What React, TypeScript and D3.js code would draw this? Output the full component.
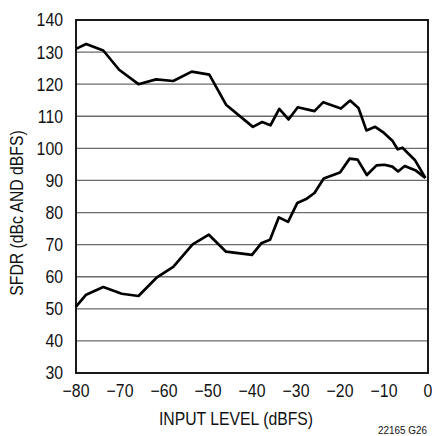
import * as d3 from "d3";

// input level (dBFS) for each measured point
const upperX = [-80, -77.7, -73.8, -70.2, -65.8, -61.8, -57.9, -53.7, -49.7, -45.9, -39.8, -37.7, -35.8, -33.8, -31.7, -29.6, -25.8, -23.8, -19.8, -17.7, -15.8, -14, -12, -10, -8.1, -6.9, -5.8, -3, -0.6];
const upperY = [131, 132.5, 130.5, 124.5, 120, 121.5, 121, 123.9, 123, 113.6, 106.7, 108.2, 107.2, 112.3, 109, 112.8, 111.6, 114.4, 112.4, 114.9, 112.6, 105.6, 106.7, 104.8, 102.4, 99.7, 100.2, 96.4, 90.8];

const lowerX = [-80, -77.7, -73.8, -69.6, -65.8, -61.7, -57.9, -53.5, -49.8, -45.9, -40, -37.9, -35.9, -33.9, -31.8, -29.7, -27.7, -25.8, -23.7, -20, -17.8, -16, -13.9, -11.7, -9.9, -8.1, -6.8, -5.3, -2.9, -0.6];
const lowerY = [50.7, 54.4, 56.8, 54.7, 54, 59.7, 63.1, 70.1, 73.1, 67.8, 66.8, 70.4, 71.5, 78.5, 77.1, 83, 84.2, 86.1, 90.6, 92.5, 96.8, 96.5, 91.7, 94.7, 94.9, 94.3, 92.8, 94.5, 93.2, 90.8];

const xTicks = [-80, -70, -60, -50, -40, -30, -20, -10, 0];
const yTicks = [30, 40, 50, 60, 70, 80, 90, 100, 110, 120, 130, 140];

const font = "'Liberation Sans', Arial, sans-serif";

export default function App() {
    const width = 432;
    const height = 436;
    const left = 76, right = 428, top = 20, bottom = 373;

    const x = d3.scaleLinear().domain([-80, 0]).range([left, right]);
    const y = d3.scaleLinear().domain([30, 140]).range([bottom, top]);

    const line = d3.line<[number, number]>()
        .x(d => x(d[0]))
        .y(d => y(d[1]));

    const upper = upperX.map((v, i) => [v, upperY[i]] as [number, number]);
    const lower = lowerX.map((v, i) => [v, lowerY[i]] as [number, number]);

    const minus = (v: number) => (v < 0 ? "\u2212" + Math.abs(v) : String(v));

    // condensed look: the original uses a narrow face
    const tickSx = 0.88;
    const labelSx = 0.83;

    return (
        <svg width={width} height={height} style={{ position: "absolute", left: 0, top: 0, background: "white" }}
            fontFamily={font}>
            {yTicks.slice(1, -1).map(t => (
                <line key={"g" + t} x1={left} x2={right} y1={y(t)} y2={y(t)} stroke="#6b6b6b" strokeWidth={1.3} />
            ))}
            <path d={line(upper) ?? ""} fill="none" stroke="black" strokeWidth={2.7} strokeLinejoin="round" />
            <path d={line(lower) ?? ""} fill="none" stroke="black" strokeWidth={2.7} strokeLinejoin="round" />
            <rect x={left} y={top} width={right - left} height={bottom - top} fill="none" stroke="black" strokeWidth={1.8} />
            {yTicks.map(t => (
                <text key={"y" + t} transform={`translate(63,${y(t)}) scale(${tickSx},1)`} dy="0.36em"
                    textAnchor="end" fontSize={18} fill="#111">{t}</text>
            ))}
            {xTicks.map(t => (
                <text key={"x" + t} transform={`translate(${x(t)},397) scale(${tickSx},1)`}
                    textAnchor="middle" fontSize={18} fill="#111">{minus(t)}</text>
            ))}
            <text transform={`translate(236,425) scale(${labelSx},1)`} textAnchor="middle" fontSize={19} fill="#111">INPUT LEVEL (dBFS)</text>
            <text transform={`translate(23,213) rotate(-90) scale(${labelSx},1)`} textAnchor="middle" fontSize={19} fill="#111">SFDR (dBc AND dBFS)</text>
            <text transform="translate(427,434) scale(0.9,1)" textAnchor="end" fontSize={11} fill="#111">22165 G26</text>
        </svg>
    );
}
